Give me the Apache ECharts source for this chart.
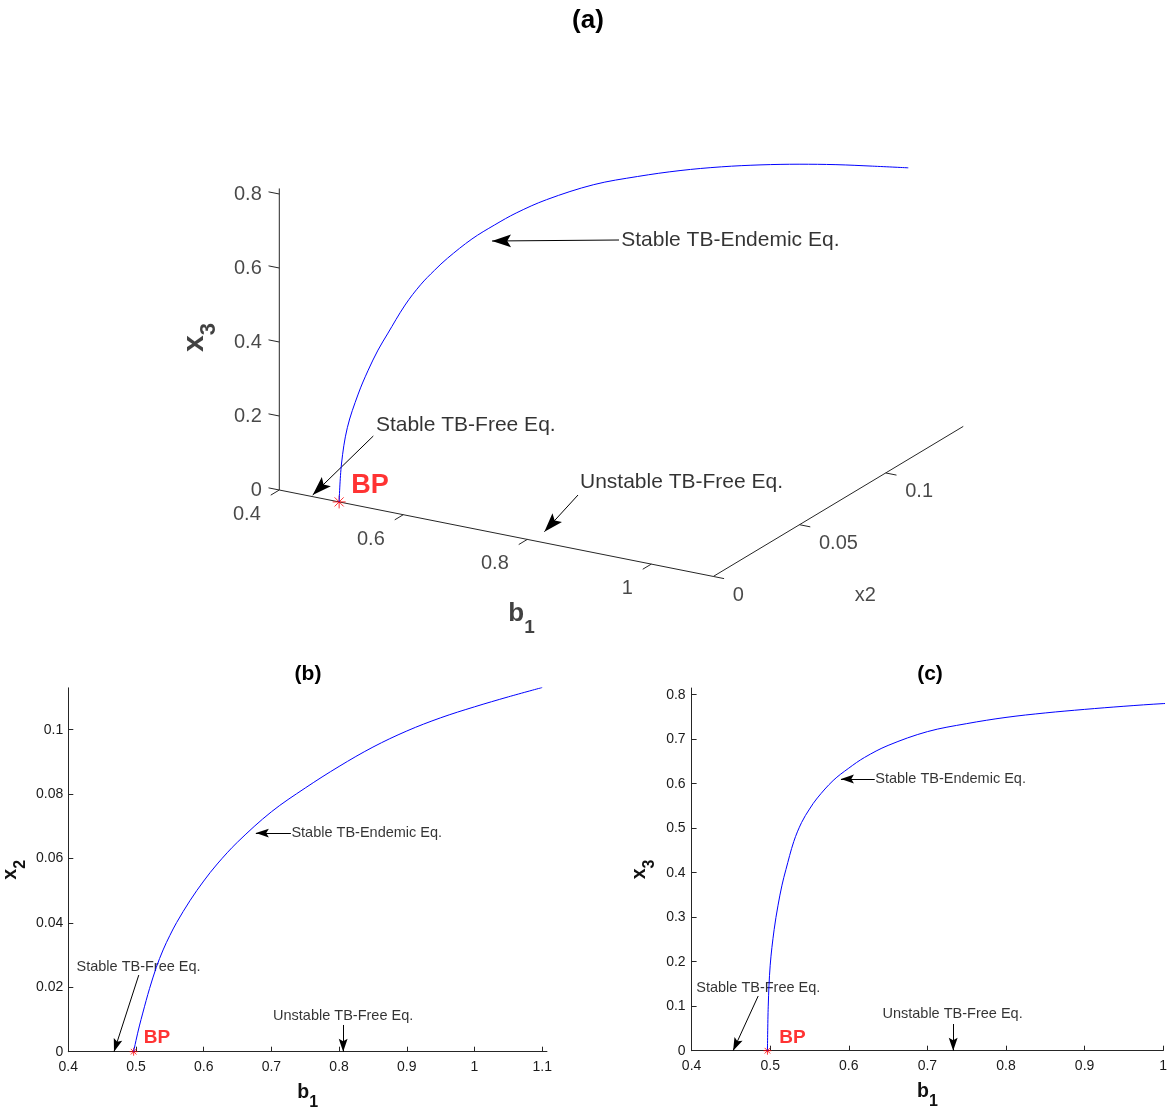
<!DOCTYPE html>
<html>
<head>
<meta charset="utf-8">
<script src="https://cdn.jsdelivr.net/npm/echarts@6/dist/echarts.min.js"></script>
<style>html,body{margin:0;padding:0;background:#fff}#c{width:1170px;height:1113px}</style>
</head>
<body>
<div id="c"></div>
<script>
// ================= DATA =================
const b1 = [0.4965, 0.4975, 0.5, 0.505, 0.51, 0.515, 0.52, 0.53, 0.54, 0.55, 0.56, 0.58, 0.6, 0.62, 0.65, 0.7, 0.75, 0.8, 0.85, 0.9, 0.95, 1.0, 1.05, 1.1];
const x2 = [0, 0.001, 0.0035, 0.008, 0.012, 0.0159, 0.0196, 0.0262, 0.0316, 0.0361, 0.0401, 0.0470, 0.0530, 0.0583, 0.0651, 0.0745, 0.0819, 0.0886, 0.0946, 0.0996, 0.1037, 0.1071, 0.1102, 0.1131];
const x3 = [0, 0.10, 0.192, 0.272, 0.327, 0.372, 0.407, 0.47, 0.513, 0.543, 0.568, 0.607, 0.635, 0.659, 0.686, 0.717, 0.735, 0.749, 0.759, 0.767, 0.774, 0.780, 0.784, 0.788];

// tick values
const ticksB1_3d = [0.4, 0.6, 0.8, 1];
const ticksX2_3d = [0, 0.05, 0.1];
const ticksX3_3d = [0, 0.2, 0.4, 0.6, 0.8];
const ticksB1_b = [0.4, 0.5, 0.6, 0.7, 0.8, 0.9, 1, 1.1];
const ticksX2_b = [0, 0.02, 0.04, 0.06, 0.08, 0.1];
const ticksB1_c = [0.4, 0.5, 0.6, 0.7, 0.8, 0.9, 1];
const ticksX3_c = [0, 0.1, 0.2, 0.3, 0.4, 0.5, 0.6, 0.7, 0.8];

// axis limits
const lim3 = { b: [0.4, 1.1], x: [0, 0.145], z: [0, 0.815] };
const limB = { x: [0.4, 1.107], y: [0, 0.113] };
const limC = { x: [0.4, 1.0], y: [0, 0.815] };

// annotation text
const TXT_END = 'Stable TB-Endemic Eq.';
const TXT_FREE = 'Stable TB-Free Eq.';
const TXT_UNST = 'Unstable TB-Free Eq.';

// ================= LAYOUT / STYLE =================
const FONT = '"Liberation Sans", Arial, Helvetica, sans-serif';
const AX = '#262626';
const BLUE = '#0000ff';
const RED = '#ff0000';
// orthographic projection of the 3-D view (pixel space of panel a)
const V = { ox: 279.3, oy: 490, bx: 620, by: 123.5, xx: 1724, xy: -1035, zz: -370 };
function proj(b, x, z) {
  return [V.ox + (b - lim3.b[0]) * V.bx + x * V.xx,
          V.oy + (b - lim3.b[0]) * V.by + x * V.xy + z * V.zz];
}
function unit(v) { const l = Math.hypot(v[0], v[1]); return [v[0] / l, v[1] / l]; }
const bDir = unit([V.bx, V.by]);
const xDir = unit([V.xx, V.xy]);
function seg(p, d, len) { return [p, [p[0] + d[0] * len, p[1] + d[1] * len]]; }

const ARROW = 'path://M-1,-1M1,1M0,0L0.34,1L0,0.8L-0.34,1Z';
const STAR = 'path://M0,-1L0,1M-1,0L1,0M-0.7,-0.7L0.7,0.7M-0.7,0.7L0.7,-0.7';

// annotation anchors: panel (a) in view pixels, (b)/(c) in data units
const annA = [
  { text: TXT_END,  pos: [620.7, 240],   tail: [619, 240],     tip: [492, 241] },
  { text: TXT_FREE, pos: [375.4, 425],   tail: [373.3, 436],   tip: [312.7, 495] },
  { text: TXT_UNST, pos: [579.5, 482.7], tail: [578, 495],     tip: [544.4, 531.7] }
];
const annB = [
  { text: TXT_END,  pos: [0.7288, 0.0679], align: 'left',   tail: [0.7288, 0.0679], tip: [0.677, 0.0679] },
  { text: TXT_FREE, pos: [0.4114, 0.0264], align: 'left',   tail: [0.5041, 0.0238], tip: [0.4675, 0] },
  { text: TXT_UNST, pos: [0.806, 0.0111],  align: 'center', tail: [0.806, 0.0083],  tip: [0.806, 0] }
];
const annC = [
  { text: TXT_END,  pos: [0.633, 0.6106],  align: 'left',   tail: [0.633, 0.6106],  tip: [0.590, 0.6106] },
  { text: TXT_FREE, pos: [0.4053, 0.1416], align: 'left',   tail: [0.4847, 0.1229], tip: [0.4528, 0] },
  { text: TXT_UNST, pos: [0.732, 0.0818],  align: 'center', tail: [0.7328, 0.06],   tip: [0.7328, 0] }
];
const bpA = [350.7, 486];
const bpB = [0.5108, 0.0042];
const bpC = [0.5108, 0.0292];

// ================= BUILD =================
const chart = echarts.init(document.getElementById('c'), null, { renderer: 'canvas' });

function lbl(items, grid, pos, distance, style, offset) {
  return {
    type: 'scatter', xAxisIndex: grid, yAxisIndex: grid, symbolSize: 1, silent: true, clip: false,
    itemStyle: { color: 'transparent' }, emphasis: { disabled: true },
    data: items.map(it => ({ value: it.value, label: Object.assign({ formatter: it.text }, it.label || {}) })),
    label: Object.assign({ show: true, position: pos, distance: distance, offset: offset || [0, 0], fontFamily: FONT }, style)
  };
}
function arrows(list, grid, size) {
  return {
    type: 'lines', coordinateSystem: 'cartesian2d', xAxisIndex: grid, yAxisIndex: grid, silent: true, clip: false,
    polyline: false, symbol: ['none', ARROW], symbolSize: [0, size],
    lineStyle: { color: '#000', width: 1, opacity: 1, curveness: 0 },
    data: list.map(a => ({ coords: [a.tail, a.tip] }))
  };
}
function axis2d(grid, lim, ticks, name, nameGap, rich, margin) {
  return {
    gridIndex: grid, type: 'value', min: lim[0], max: lim[1],
    axisLine: { show: true, onZero: false, lineStyle: { color: AX, width: 1 } },
    axisTick: { show: true, inside: true, length: 5, customValues: ticks, lineStyle: { color: AX, width: 1 } },
    axisLabel: { show: true, customValues: ticks, color: '#1a1a1a', fontSize: 14, fontFamily: FONT, margin: margin,
                 formatter: v => String(+(+v).toFixed(4)) },
    splitLine: { show: false },
    name: name, nameLocation: 'middle', nameGap: nameGap,
    nameTextStyle: { rich: rich }
  };
}
const rich2d = {
  m: { fontSize: 19.5, fontWeight: 'bold', fontFamily: FONT, color: '#111' },
  s: { fontSize: 16, fontWeight: 'bold', fontFamily: FONT, color: '#111', padding: [20, 0, 0, 0] }
};
const richA = {
  m: { fontSize: 26, fontWeight: 'bold', fontFamily: FONT, color: '#111' },
  s: { fontSize: 19, fontWeight: 'bold', fontFamily: FONT, color: '#111', padding: [28, 0, 0, 0] },
  m2: { fontSize: 30, fontWeight: 'bold', fontFamily: FONT, color: '#111' },
  s2: { fontSize: 22, fontWeight: 'bold', fontFamily: FONT, color: '#111', padding: [29, 0, 0, 0] },
  n: { fontSize: 20, fontFamily: FONT, color: '#1a1a1a' }
};

const ticks3 = [].concat(
  ticksB1_3d.map(v => seg(proj(v, 0, 0), [-xDir[0], -xDir[1]], 10)),
  ticksX2_3d.map(v => seg(proj(lim3.b[1], v, 0), bDir, 11)),
  ticksX3_3d.map(v => seg(proj(lim3.b[0], 0, v), [-bDir[0], -bDir[1]], 11))
);

const titleFont = s => 'bold ' + s + 'px ' + FONT;
const curveStyle = { color: BLUE, width: 1 };

const option = {
  animation: false,
  textStyle: { fontFamily: FONT },
  graphic: [
    { type: 'text', x: 588, y: 21, style: { text: '(a)', font: titleFont(26), fill: '#000', textAlign: 'center', textVerticalAlign: 'middle' } },
    { type: 'text', x: 308, y: 674, style: { text: '(b)', font: titleFont(21), fill: '#000', textAlign: 'center', textVerticalAlign: 'middle' } },
    { type: 'text', x: 930, y: 674, style: { text: '(c)', font: titleFont(21), fill: '#000', textAlign: 'center', textVerticalAlign: 'middle' } }
  ],
  grid: [
    { left: 0, top: 0, width: 1170, height: 1113, containLabel: false, outerBoundsMode: 'none' },
    { left: 68.3, top: 1051.7 - (limB.y[1] - limB.y[0]) * 3220, width: (limB.x[1] - limB.x[0]) * 677, height: (limB.y[1] - limB.y[0]) * 3220, containLabel: false, outerBoundsMode: 'none' },
    { left: 691.6, top: 1050.7 - (limC.y[1] - limC.y[0]) * 445, width: (limC.x[1] - limC.x[0]) * 786, height: (limC.y[1] - limC.y[0]) * 445, containLabel: false, outerBoundsMode: 'none' }
  ],
  xAxis: [
    { gridIndex: 0, type: 'value', min: 0, max: 1170, show: false },
    axis2d(1, limB.x, ticksB1_b, '{m|b}{s|1}', 23, rich2d, 8),
    axis2d(2, limC.x, ticksB1_c, '{m|b}{s|1}', 23, rich2d, 8)
  ],
  yAxis: [
    { gridIndex: 0, type: 'value', min: 0, max: 1113, inverse: true, show: false },
    axis2d(1, limB.y, ticksX2_b, '{m|x}{s|2}', 40, rich2d, 5),
    axis2d(2, limC.y, ticksX3_c, '{m|x}{s|3}', 34, rich2d, 6)
  ],
  series: [
    // ---------- (a) 3-D view ----------
    { type: 'lines', coordinateSystem: 'cartesian2d', xAxisIndex: 0, yAxisIndex: 0, polyline: true, silent: true,
      lineStyle: { color: AX, width: 1, opacity: 1 },
      data: [{ coords: [proj(lim3.b[1], lim3.x[1], 0), proj(lim3.b[1], 0, 0), proj(lim3.b[0], 0, 0), proj(lim3.b[0], 0, lim3.z[1])] }] },
    { type: 'lines', coordinateSystem: 'cartesian2d', xAxisIndex: 0, yAxisIndex: 0, polyline: false, silent: true,
      symbol: ['none', 'none'], lineStyle: { color: AX, width: 1, opacity: 1 },
      data: ticks3.map(c => ({ coords: c })) },
    lbl(ticksX3_3d.map(v => ({ value: proj(lim3.b[0], 0, v), text: String(v) })), 0, 'left', 17, { color: '#1a1a1a', fontSize: 20 }),
    lbl(ticksB1_3d.map(v => ({ value: proj(v, 0, 0), text: String(v) })), 0, 'left', 18, { color: '#1a1a1a', fontSize: 20 }, [0, 24.5]),
    lbl(ticksX2_3d.map(v => ({ value: proj(lim3.b[1], v, 0), text: String(v) })), 0, 'right', 19, { color: '#1a1a1a', fontSize: 20 }, [0, 19]),
    { type: 'line', xAxisIndex: 0, yAxisIndex: 0, silent: true, clip: false, showSymbol: false, symbol: 'none',
      smooth: 0.35, lineStyle: curveStyle,
      data: b1.map((b, i) => proj(b, x2[i], x3[i])) },
    arrows(annA, 0, 38),
    lbl(annA.map(a => ({ value: a.pos, text: a.text })), 0, 'right', 0, { color: '#000', fontSize: 21 }),
    lbl([{ value: bpA, text: 'BP' }], 0, 'right', 0, { color: RED, fontSize: 27, fontWeight: 'bold' }),
    { type: 'scatter', xAxisIndex: 0, yAxisIndex: 0, silent: true, clip: false, symbol: STAR, symbolSize: 13,
      itemStyle: { color: 'none', borderColor: RED, borderWidth: 1 },
      data: [proj(b1[0], x2[0], x3[0])] },
    lbl([
      { value: [521.5, 614], text: '{m|b}{s|1}' },
      { value: [865.3, 595], text: '{n|x2}' },
      { value: [194.5, 337.5], text: '{m2|x}{s2|3}', label: { rotate: 90 } }
    ], 0, 'inside', 0, { rich: richA }),

    // ---------- (b) x2 vs b1 ----------
    { type: 'line', xAxisIndex: 1, yAxisIndex: 1, silent: true, showSymbol: false, symbol: 'none',
      smooth: 0.35, lineStyle: curveStyle,
      data: b1.map((b, i) => [b, x2[i]]) },
    arrows(annB, 1, 26),
    lbl(annB.filter(a => a.align === 'left').map(a => ({ value: a.pos, text: a.text })), 1, 'right', 0, { color: '#000', fontSize: 14.5 }),
    lbl(annB.filter(a => a.align === 'center').map(a => ({ value: a.pos, text: a.text })), 1, 'inside', 0, { color: '#000', fontSize: 14.5 }),
    lbl([{ value: bpB, text: 'BP' }], 1, 'right', 0, { color: RED, fontSize: 19, fontWeight: 'bold' }),
    { type: 'scatter', xAxisIndex: 1, yAxisIndex: 1, silent: true, clip: false, symbol: STAR, symbolSize: 8,
      itemStyle: { color: 'none', borderColor: RED, borderWidth: 1 },
      data: [[b1[0], x2[0]]] },

    // ---------- (c) x3 vs b1 ----------
    { type: 'line', xAxisIndex: 2, yAxisIndex: 2, silent: true, showSymbol: false, symbol: 'none', clip: true,
      smooth: 0.35, lineStyle: curveStyle,
      data: b1.map((b, i) => [b, x3[i]]) },
    arrows(annC, 2, 26),
    lbl(annC.filter(a => a.align === 'left').map(a => ({ value: a.pos, text: a.text })), 2, 'right', 0, { color: '#000', fontSize: 14.5 }),
    lbl(annC.filter(a => a.align === 'center').map(a => ({ value: a.pos, text: a.text })), 2, 'inside', 0, { color: '#000', fontSize: 14.5 }),
    lbl([{ value: bpC, text: 'BP' }], 2, 'right', 0, { color: RED, fontSize: 19, fontWeight: 'bold' }),
    { type: 'scatter', xAxisIndex: 2, yAxisIndex: 2, silent: true, clip: false, symbol: STAR, symbolSize: 8,
      itemStyle: { color: 'none', borderColor: RED, borderWidth: 1 },
      data: [[b1[0], x3[0]]] }
  ]
};
chart.setOption(option);
</script>
</body>
</html>
